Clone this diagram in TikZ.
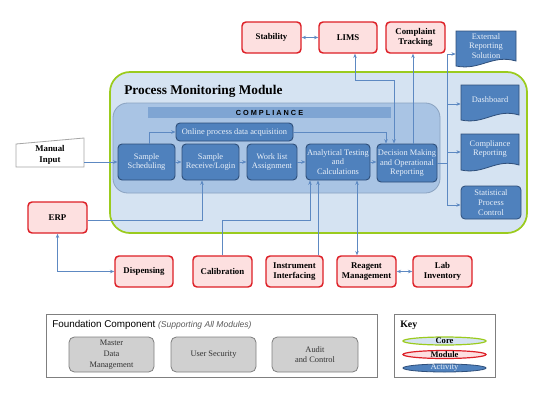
\documentclass[tikz,border=0pt]{standalone}
\usepackage{fontspec}
\setmainfont{Liberation Serif}
\newfontfamily\arialf{Liberation Sans}
\usetikzlibrary{calc,arrows.meta}
\definecolor{corefill}{HTML}{D5E3F2}
\definecolor{coregreen}{HTML}{9BCB1E}
\definecolor{compfill}{HTML}{A9C4E4}
\definecolor{compline}{HTML}{8AA2C0}
\definecolor{barfill}{HTML}{7FA5D3}
\definecolor{actfill}{HTML}{4F81BD}
\definecolor{actline}{HTML}{2F4F7A}
\definecolor{acttext}{HTML}{E9F0F9}
\definecolor{modfill}{HTML}{FDE0E0}
\definecolor{modred}{HTML}{DD1F26}
\definecolor{conncol}{HTML}{5D89C2}
\definecolor{grayfill}{HTML}{D0D0D0}
\definecolor{grayline}{HTML}{7F7F7F}
\definecolor{frameline}{HTML}{7F7F7F}
\tikzset{
  wh/.style 2 args={minimum width=#1*0.75pt, minimum height=#2*0.75pt},
  module/.style={draw=modred, line width=1.1pt, fill=modfill, rounded corners=3pt,
    align=center, inner sep=0pt, text=black, font=\bfseries\fontsize{6.6}{7.8}\selectfont},
  act/.style={draw=actline, line width=0.7pt, fill=actfill, rounded corners=3pt,
    align=center, inner sep=0pt, text=acttext, font=\fontsize{6.3}{7.2}\selectfont},
  doctext/.style={align=center, inner sep=0pt, text=acttext, font=\fontsize{6.3}{7.4}\selectfont},
  docst/.style={draw=actline, line width=0.6pt, fill=actfill},
  grayb/.style={draw=grayline, line width=0.6pt, fill=grayfill, rounded corners=4pt,
    align=center, inner sep=0pt, text=black!80, font=\fontsize{6.3}{8}\selectfont},
  conn/.style={draw=conncol, line width=0.55pt},
  >={Stealth[length=3.2pt,width=2.6pt]}
}
\newcommand\docshp[4]{\draw[docst] (#1,#2) -- (#3,#2) -- (#3,{#4-5})
  .. controls ({#3-0.4*(#3-#1)},{#4-12}) and ({#1+0.4*(#3-#1)},{#4+5}) .. (#1,#4) -- cycle;}
\begin{document}
\begin{tikzpicture}[x=0.75pt,y=-0.75pt]
\useasboundingbox (0,0) rectangle (539,404);

% core container
\draw[draw=coregreen, line width=1.3pt, fill=corefill, rounded corners=15pt] (110,72) rectangle (527,233);
\node[anchor=west, inner sep=0pt, font=\bfseries\fontsize{10}{12}\selectfont] (title) at (124,91) {Process Monitoring Module};
% compliance container
\draw[draw=compline, line width=0.6pt, fill=compfill, rounded corners=11pt] (113,103) rectangle (440,193);
\fill[barfill] (148,107) rectangle (391,118);
\node[inner sep=0pt, font=\arialf\bfseries\fontsize{5.5}{6}\selectfont] (compl) at (269.5,112.5)
  {C\hspace{1.5pt}O\hspace{1.5pt}M\hspace{1.5pt}P\hspace{1.5pt}L\hspace{1.5pt}I\hspace{1.5pt}A\hspace{1.5pt}N\hspace{1.5pt}C\hspace{1.5pt}E};

% activities
\node[act, wh={117}{18}] (onl) at (234.5,132) {Online process data acquisition};
\node[act, wh={57}{36}] (ss) at (146.5,162) {Sample\\Scheduling};
\node[act, wh={57}{36}] (sr) at (210.5,162) {Sample\\Receive/Login};
\node[act, wh={50}{36}] (wl) at (272,162) {Work list\\Assignment};
\node[act, wh={64}{36}] (at) at (338,162) {Analytical Testing\\and\\Calculations};
\node[act, wh={60}{38}] (dm) at (407,163) {Decision Making\\and Operational\\Reporting};

% modules
\node[module, wh={59}{31}] (stab) at (271.5,37.5) {Stability};
\node[module, wh={58}{31}] (lims) at (348,37.5) {LIMS};
\node[module, wh={59}{31}] (cmp) at (415.5,37.5) {Complaint\\Tracking};
\node[module, wh={59}{31}] (erp) at (57.5,217.5) {ERP};
\node[module, wh={58}{31}] (disp) at (144,271.5) {Dispensing};
\node[module, wh={59}{31}] (cal) at (222.5,271.5) {Calibration};
\node[module, wh={57}{31}] (inst) at (294.5,271.5) {Instrument\\Interfacing};
\node[module, wh={59}{31}] (rea) at (366.5,271.5) {Reagent\\Management};
\node[module, wh={59}{31}] (lab) at (442.5,271.5) {Lab\\Inventory};

% manual input
\draw[draw=black!35, line width=0.6pt, fill=white] (16,144) -- (84,138) -- (84,167) -- (16,167) -- cycle;
\node[inner sep=0pt, align=center, font=\bfseries\fontsize{6.6}{7.8}\selectfont, wh={68}{23}] (man) at (50,155) {Manual\\Input};

% documents
\docshp{456}{31}{516}{66}
\node[doctext, wh={60}{30}] (ext) at (486,46) {External\\Reporting\\Solution};
\docshp{461}{85}{519}{120}
\node[doctext, wh={58}{30}] (dash) at (490,100) {Dashboard};
\docshp{461}{134}{519}{170}
\node[doctext, wh={58}{30}] (crep) at (490,149) {Compliance\\Reporting};
\node[act, wh={60}{33}, line width=0.6pt, font=\fontsize{6.3}{7.6}\selectfont] (spc) at (491,202.5) {Statistical\\Process\\Control};

% connectors inside
\draw[conn,->] (man.east |- ss.west) -- (ss.west);
\draw[conn,->] ($(ss.north)+(2.5,0)$) |- (onl.west);
\draw[conn,->] (ss.east) -- (sr.west);
\draw[conn,->] (sr.east) -- (wl.west);
\draw[conn,->] (wl.east) -- (at.west);
\draw[conn,->] (at.east) -- (at.east -| dm.west);
\draw[conn,->] (onl.east) -| ($(dm.north)+(-21,0)$);
\draw[conn,<->] ($(lims.south)+(7,0)$) |- ($(dm.north)+(-13,-63)$) -- ($(dm.north)+(-13,0)$);
\draw[conn,<-] ($(cmp.south)+(-2.5,0)$) -- ($(cmp.south |- dm.north)+(-2.5,0)$);
\draw[conn,<->] (stab.east) -- (lims.west);

% bus to outputs
\coordinate (b1) at (447,54);
\coordinate (b2) at (447,104);
\coordinate (b3) at (447,152);
\coordinate (b4) at (447,205);
\draw[conn] (dm.east) -- (dm.east -| b1);
\draw[conn] (b1) -- (b4);
\draw[conn,->] (b1) -- (b1 -| ext.west);
\draw[conn,->] (b2) -- (b2 -| dash.west);
\draw[conn,->] (b3) -- (b3 -| crep.west);
\draw[conn,->] (b4) -- (b4 -| spc.west);

% lower connectors
\draw[conn,->] ($(erp.east)+(0,2.5)$) -| ($(sr.south)+(-8.5,0)$);
\draw[conn,<->] (erp.south) |- (disp.west);
\draw[conn,->] (cal.north) |- ($(at.south)+(-28,40)$) -- ($(at.south)+(-28,0)$);
\draw[conn,->] ($(inst.north)+(23.5,0)$) -- ($(at.south)+(-20,0)$);
\draw[conn,<->] ($(at.south)+(19,0)$) -- ($(rea.north)+(-9.5,0)$);
\draw[conn,<->] (rea.east) -- (lab.west);

% foundation
\draw[draw=frameline, line width=0.6pt] (46,314) rectangle (377,377);
\node[anchor=west, inner sep=0pt, font=\arialf\fontsize{7.4}{9}\selectfont] (ftitle) at (52,325)
  {Foundation Component {\fontsize{6.4}{8}\selectfont\itshape\color{black!65}(Supporting All Modules)}};
\node[grayb, wh={85}{35}] (mdm) at (111.5,354.5) {Master\\Data\\Management};
\node[grayb, wh={85}{35}] (us) at (213.5,354.5) {User Security};
\node[grayb, wh={86}{35}] (ac) at (315,354.5) {Audit\\and Control};

% key
\draw[draw=frameline, line width=0.6pt] (394,314) rectangle (495,377);
\node[anchor=west, inner sep=0pt, font=\bfseries\fontsize{7.4}{9}\selectfont] (key) at (400,325) {Key};
\draw[draw=coregreen, line width=0.9pt, fill=corefill] (444.5,341) ellipse [x radius=41.5, y radius=4];
\node[inner sep=0pt, font=\bfseries\fontsize{6.4}{7}\selectfont] (kcore) at (444.5,341) {Core};
\draw[draw=modred, line width=0.9pt, fill=modfill] (444.5,354.5) ellipse [x radius=41.5, y radius=4];
\node[inner sep=0pt, font=\bfseries\fontsize{6.4}{7}\selectfont] (kmod) at (444.5,354.5) {Module};
\draw[draw=actline, line width=0.6pt, fill=actfill] (444.5,368) ellipse [x radius=41.5, y radius=4];
\node[inner sep=0pt, text=acttext, font=\fontsize{6.4}{7}\selectfont] (kact) at (444.5,368) {Activity};
\end{tikzpicture}
\end{document}
